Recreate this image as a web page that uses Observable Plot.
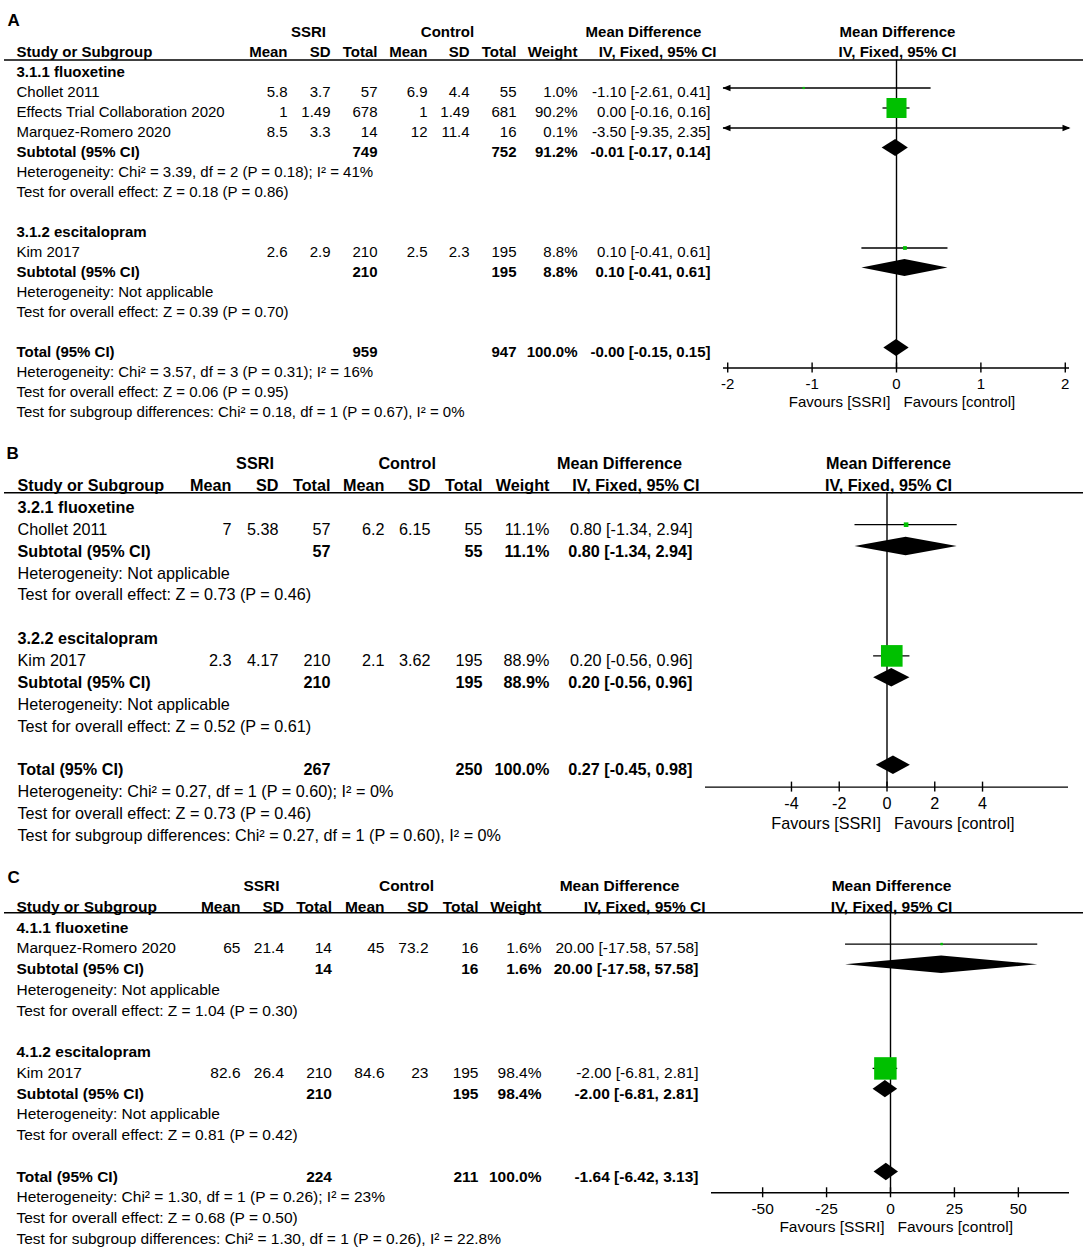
<!DOCTYPE html>
<html><head><meta charset="utf-8">
<script src="https://cdn.jsdelivr.net/npm/d3@7"></script>
<script src="https://cdn.jsdelivr.net/npm/@observablehq/plot@0.6"></script>
<style>
html,body{margin:0;padding:0;background:#fff;}
#chart{position:relative;width:1084px;height:1248px;overflow:hidden;background:#fff;}
#chart svg{display:block;position:absolute;left:0;}
</style></head><body><div id="chart"></div>
<script>
// ---------------- shared texts ----------------
const groupHeads = ["SSRI", "Control"];
const mdHead = ["Mean Difference", "IV, Fixed, 95% CI"];
const colHeads = ["Study or Subgroup", "Mean", "SD", "Total", "Mean", "SD", "Total", "Weight"];
const rowLabels = ["Subtotal (95% CI)", "Total (95% CI)"];
const favours = ["Favours [SSRI]", "Favours [control]"];

// ---------------- Panel A ----------------
const A_groups = ["3.1.1 fluoxetine", "3.1.2 escitalopram"];
const A_studies = ["Chollet 2011", "Effects Trial Collaboration 2020", "Marquez-Romero 2020", "Kim 2017"];
const A_studyGroup = [0, 0, 0, 1];
const A_ssriMean = [5.8, 1, 8.5, 2.6];
const A_ssriSD = [3.7, 1.49, 3.3, 2.9];
const A_ssriN = [57, 678, 14, 210];
const A_ctrlMean = [6.9, 1, 12, 2.5];
const A_ctrlSD = [4.4, 1.49, 11.4, 2.3];
const A_ctrlN = [55, 681, 16, 195];
const A_weight = [1.0, 90.2, 0.1, 8.8];
const A_md = [-1.10, 0.00, -3.50, 0.10];
const A_lo = [-2.61, -0.16, -9.35, -0.41];
const A_hi = [0.41, 0.16, 2.35, 0.61];
const A_subSsriN = [749, 210];
const A_subCtrlN = [752, 195];
const A_subWeight = [91.2, 8.8];
const A_subMd = [-0.01, 0.10];
const A_subLo = [-0.17, -0.41];
const A_subHi = [0.14, 0.61];
const A_subHet = ["Heterogeneity: Chi² = 3.39, df = 2 (P = 0.18); I² = 41%", "Heterogeneity: Not applicable"];
const A_subTest = ["Test for overall effect: Z = 0.18 (P = 0.86)", "Test for overall effect: Z = 0.39 (P = 0.70)"];
const A_total = [959, 947, 100.0, -0.00, -0.15, 0.15]; // SSRI N, control N, weight, MD, lo, hi
const A_totalNotes = ["Heterogeneity: Chi² = 3.57, df = 3 (P = 0.31); I² = 16%", "Test for overall effect: Z = 0.06 (P = 0.95)", "Test for subgroup differences: Chi² = 0.18, df = 1 (P = 0.67), I² = 0%"];
const A_ticks = [-2, -1, 0, 1, 2];

// ---------------- Panel B ----------------
const B_groups = ["3.2.1 fluoxetine", "3.2.2 escitalopram"];
const B_studies = ["Chollet 2011", "Kim 2017"];
const B_studyGroup = [0, 1];
const B_ssriMean = [7, 2.3];
const B_ssriSD = [5.38, 4.17];
const B_ssriN = [57, 210];
const B_ctrlMean = [6.2, 2.1];
const B_ctrlSD = [6.15, 3.62];
const B_ctrlN = [55, 195];
const B_weight = [11.1, 88.9];
const B_md = [0.80, 0.20];
const B_lo = [-1.34, -0.56];
const B_hi = [2.94, 0.96];
const B_subSsriN = [57, 210];
const B_subCtrlN = [55, 195];
const B_subWeight = [11.1, 88.9];
const B_subMd = [0.80, 0.20];
const B_subLo = [-1.34, -0.56];
const B_subHi = [2.94, 0.96];
const B_subHet = ["Heterogeneity: Not applicable", "Heterogeneity: Not applicable"];
const B_subTest = ["Test for overall effect: Z = 0.73 (P = 0.46)", "Test for overall effect: Z = 0.52 (P = 0.61)"];
const B_total = [267, 250, 100.0, 0.27, -0.45, 0.98];
const B_totalNotes = ["Heterogeneity: Chi² = 0.27, df = 1 (P = 0.60); I² = 0%", "Test for overall effect: Z = 0.73 (P = 0.46)", "Test for subgroup differences: Chi² = 0.27, df = 1 (P = 0.60), I² = 0%"];
const B_ticks = [-4, -2, 0, 2, 4];

// ---------------- Panel C ----------------
const C_groups = ["4.1.1 fluoxetine", "4.1.2 escitalopram"];
const C_studies = ["Marquez-Romero 2020", "Kim 2017"];
const C_studyGroup = [0, 1];
const C_ssriMean = [65, 82.6];
const C_ssriSD = [21.4, 26.4];
const C_ssriN = [14, 210];
const C_ctrlMean = [45, 84.6];
const C_ctrlSD = [73.2, 23];
const C_ctrlN = [16, 195];
const C_weight = [1.6, 98.4];
const C_md = [20.00, -2.00];
const C_lo = [-17.58, -6.81];
const C_hi = [57.58, 2.81];
const C_subSsriN = [14, 210];
const C_subCtrlN = [16, 195];
const C_subWeight = [1.6, 98.4];
const C_subMd = [20.00, -2.00];
const C_subLo = [-17.58, -6.81];
const C_subHi = [57.58, 2.81];
const C_subHet = ["Heterogeneity: Not applicable", "Heterogeneity: Not applicable"];
const C_subTest = ["Test for overall effect: Z = 1.04 (P = 0.30)", "Test for overall effect: Z = 0.81 (P = 0.42)"];
const C_total = [224, 211, 100.0, -1.64, -6.42, 3.13];
const C_totalNotes = ["Heterogeneity: Chi² = 1.30, df = 1 (P = 0.26); I² = 23%", "Test for overall effect: Z = 0.68 (P = 0.50)", "Test for subgroup differences: Chi² = 1.30, df = 1 (P = 0.26), I² = 22.8%"];
const C_ticks = [-50, -25, 0, 25, 50];

// ---------------- layout (positions & styles) ----------------
const FONT = "Liberation Sans, Arial, Helvetica, sans-serif";
const GREEN = "#00c000";
const INK = "#000";
const ML = 4;

const layouts = {
  A: {top: 0, height: 432, y0: 67.5, step: 20, dy: 4.5, fs: 15, domain: [-2.05, 2.05], range: [723, 1069],
      hdrLine: -0.4, letterRow: -2.6, letterX: 7, tickDy: 15.7, favDy: 34,
      cols: [16, 287, 330, 377, 427, 469, 516, 577], ci: 710, ciHdr: 716,
      ssriC: 308, ctrlC: 447, mdC: 643, forestC: 897},
  B: {top: 418, height: 436, y0: 84.3, step: 21.87, dy: 5, fs: 16.2, domain: [-7.6, 7.6], range: [705, 1068],
      hdrLine: -0.457, letterRow: -2.47, letterX: 6, tickDy: 16.8, favDy: 36.6,
      cols: [17, 231, 278, 330, 384, 430, 482, 549], ci: 692, ciHdr: 699,
      ssriC: 254.5, ctrlC: 406.7, mdC: 619, forestC: 888},
  C: {top: 841, height: 407, y0: 81.8, step: 20.73, dy: 4.5, fs: 15.5, domain: [-70, 70], range: [711, 1069],
      hdrLine: -0.506, letterRow: -2.44, letterX: 7, tickDy: 16.7, favDy: 34.6,
      cols: [16, 240, 283.5, 331.5, 384, 428, 478, 541], ci: 698, ciHdr: 705,
      ssriC: 261, ctrlC: 406, mdC: 619, forestC: 891}
};

// filled arrowhead pointing left, tip at the symbol origin
const arrowHead = {draw(ctx) { ctx.moveTo(-1, 0); ctx.lineTo(7, -3.2); ctx.lineTo(7, 3.2); ctx.closePath(); }};

const f2 = v => ((v < 0 || Object.is(v, -0)) ? "-" : "") + Math.abs(v).toFixed(2);
const ciText = d => `${f2(d.md)} [${f2(d.lo)}, ${f2(d.hi)}]`;

function makeData(p) {
  const g = name => eval(p + "_" + name);
  return {
    groups: g("groups"), studies: g("studies"), studyGroup: g("studyGroup"),
    ssriMean: g("ssriMean"), ssriSD: g("ssriSD"), ssriN: g("ssriN"),
    ctrlMean: g("ctrlMean"), ctrlSD: g("ctrlSD"), ctrlN: g("ctrlN"),
    weight: g("weight"), md: g("md"), lo: g("lo"), hi: g("hi"),
    subSsriN: g("subSsriN"), subCtrlN: g("subCtrlN"), subWeight: g("subWeight"),
    subMd: g("subMd"), subLo: g("subLo"), subHi: g("subHi"),
    subHet: g("subHet"), subTest: g("subTest"), total: g("total"),
    totalNotes: g("totalNotes"), ticks: g("ticks"), letter: p
  };
}

function panel(D, L) {
  const rows = [];
  let i = 0;
  D.groups.forEach((gname, gi) => {
    rows.push({i: i++, kind: "group", label: gname});
    D.studies.forEach((s, si) => {
      if (D.studyGroup[si] !== gi) return;
      rows.push({i: i++, kind: "study", label: s,
        sMean: D.ssriMean[si], sSD: D.ssriSD[si], sN: D.ssriN[si],
        cMean: D.ctrlMean[si], cSD: D.ctrlSD[si], cN: D.ctrlN[si],
        w: D.weight[si], md: D.md[si], lo: D.lo[si], hi: D.hi[si]});
    });
    rows.push({i: i++, kind: "sub", label: rowLabels[0], sN: D.subSsriN[gi], cN: D.subCtrlN[gi],
      w: D.subWeight[gi], md: D.subMd[gi], lo: D.subLo[gi], hi: D.subHi[gi]});
    rows.push({i: i++, kind: "note", label: D.subHet[gi]});
    rows.push({i: i++, kind: "note", label: D.subTest[gi]});
    i++;
  });
  const [tS, tC, tW, tMd, tLo, tHi] = D.total;
  rows.push({i: i++, kind: "total", label: rowLabels[1], sN: tS, cN: tC, w: tW, md: tMd, lo: tLo, hi: tHi});
  const axisRow = i;
  D.totalNotes.forEach(t => rows.push({i: i++, kind: "note", label: t}));

  const [e0, e1] = L.domain;
  const isBold = d => d.kind === "group" || d.kind === "sub" || d.kind === "total";
  const txt = (data, opts) => Plot.text(data, {fontSize: L.fs, fontFamily: FONT, fill: INK, lineAnchor: "middle", dy: L.dy, ...opts});
  const marks = [];

  // panel letter
  marks.push(txt([D.letter], {frameAnchor: "left", dx: L.letterX - ML, y: () => L.letterRow, text: d => d,
    textAnchor: "start", fontWeight: "bold", fontSize: 17}));
  // group headers
  marks.push(txt([groupHeads[0]], {frameAnchor: "left", dx: L.ssriC - ML, y: () => -2, text: d => d, textAnchor: "middle", fontWeight: "bold"}));
  marks.push(txt([groupHeads[1]], {frameAnchor: "left", dx: L.ctrlC - ML, y: () => -2, text: d => d, textAnchor: "middle", fontWeight: "bold"}));
  marks.push(txt([mdHead[0]], {frameAnchor: "left", dx: L.mdC - ML, y: () => -2, text: d => d, textAnchor: "middle", fontWeight: "bold"}));
  marks.push(txt([mdHead[1]], {frameAnchor: "left", dx: L.ciHdr - ML, y: () => -1, text: d => d, textAnchor: "end", fontWeight: "bold"}));
  marks.push(txt([mdHead[0]], {frameAnchor: "left", dx: L.forestC - ML, y: () => -2, text: d => d, textAnchor: "middle", fontWeight: "bold"}));
  marks.push(txt([mdHead[1]], {frameAnchor: "left", dx: L.forestC - ML, y: () => -1, text: d => d, textAnchor: "middle", fontWeight: "bold"}));
  colHeads.forEach((h, k) => {
    marks.push(txt([h], {frameAnchor: "left", dx: L.cols[k] - ML, y: () => -1, text: d => d,
      textAnchor: k === 0 ? "start" : "end", fontWeight: "bold"}));
  });

  // table body
  const cols = [
    ["label", L.cols[0], "start", d => d.label],
    ["sMean", L.cols[1], "end", d => String(d.sMean)],
    ["sSD", L.cols[2], "end", d => String(d.sSD)],
    ["sN", L.cols[3], "end", d => String(d.sN)],
    ["cMean", L.cols[4], "end", d => String(d.cMean)],
    ["cSD", L.cols[5], "end", d => String(d.cSD)],
    ["cN", L.cols[6], "end", d => String(d.cN)],
    ["w", L.cols[7], "end", d => d.w.toFixed(1) + "%"],
    ["md", L.ci, "end", ciText]
  ];
  cols.forEach(([key, x, anchor, fn]) => {
    [false, true].forEach(bold => {
      const data = rows.filter(d => d[key] !== undefined && isBold(d) === bold);
      if (!data.length) return;
      marks.push(txt(data, {frameAnchor: "left", dx: x - ML, y: "i", text: fn, textAnchor: anchor,
        fontWeight: bold ? "bold" : "normal"}));
    });
  });

  // header line and line of no effect
  marks.push(Plot.ruleY([L.hdrLine], {y: d => d, stroke: INK, strokeWidth: 1.4}));
  marks.push(Plot.ruleX([0], {x: d => d, y1: () => L.hdrLine, y2: () => axisRow, stroke: INK, strokeWidth: 1.4}));

  // study CIs, arrows, squares
  const studies = rows.filter(d => d.kind === "study");
  marks.push(Plot.ruleY(studies, {y: "i", x1: d => Math.max(d.lo, e0), x2: d => Math.min(d.hi, e1), stroke: INK, strokeWidth: 1.3}));
  const arrows = [];
  studies.forEach(d => {
    if (d.lo < e0) arrows.push({i: d.i, at: e0, rot: 0});
    if (d.hi > e1) arrows.push({i: d.i, at: e1, rot: 180});
  });
  if (arrows.length) marks.push(Plot.dot(arrows, {x: "at", y: "i", rotate: "rot", symbol: arrowHead, r: 3, fill: INK, stroke: "none"}));
  marks.push(Plot.dot(studies.filter(d => d.md >= e0 && d.md <= e1), {x: "md", y: "i", r: "w", symbol: "square", fill: GREEN, stroke: "none"}));

  // diamonds
  const dh = 0.42;
  const diamonds = rows.filter(d => d.kind === "sub" || d.kind === "total").flatMap(d => [
    {z: d.i, x: d.lo, y1: d.i, y2: d.i},
    {z: d.i, x: d.md, y1: d.i - dh, y2: d.i + dh},
    {z: d.i, x: d.hi, y1: d.i, y2: d.i}
  ]);
  marks.push(Plot.areaY(diamonds, {x: "x", y1: "y1", y2: "y2", z: "z", fill: INK}));

  // axis
  marks.push(Plot.ruleY([axisRow], {y: d => d, x1: () => e0, x2: () => e1, stroke: INK, strokeWidth: 1.4}));
  marks.push(Plot.ruleX(D.ticks, {x: d => d, y1: () => axisRow - 5 / L.step, y2: () => axisRow + 5 / L.step, stroke: INK, strokeWidth: 1.4}));
  marks.push(txt(D.ticks, {x: d => d, y: () => axisRow, dy: L.tickDy, text: d => String(d), textAnchor: "middle"}));
  marks.push(txt([favours[0]], {x: () => 0, y: () => axisRow, dy: L.favDy, dx: -6, text: d => d, textAnchor: "end"}));
  marks.push(txt([favours[1]], {x: () => 0, y: () => axisRow, dy: L.favDy, dx: 7, text: d => d, textAnchor: "start"}));

  const k = L.step / 20, sq = Math.sqrt(Math.PI);
  const svg = Plot.plot({
    width: 1084, height: L.height,
    marginLeft: ML, marginRight: 1, marginTop: 0, marginBottom: 0,
    x: {domain: L.domain, range: L.range, axis: null},
    y: {domain: [0, 1], range: [L.y0, L.y0 + L.step], axis: null},
    r: {type: "linear", domain: [0, 100], range: [2 * k / sq, 22 * k / sq]},
    style: {fontFamily: FONT, background: "transparent", overflow: "visible"},
    marks
  });
  svg.style.top = L.top + "px";
  return svg;
}

const root = document.getElementById("chart");
["A", "B", "C"].forEach(p => root.appendChild(panel(makeData(p), layouts[p])));
</script>
</body></html>
